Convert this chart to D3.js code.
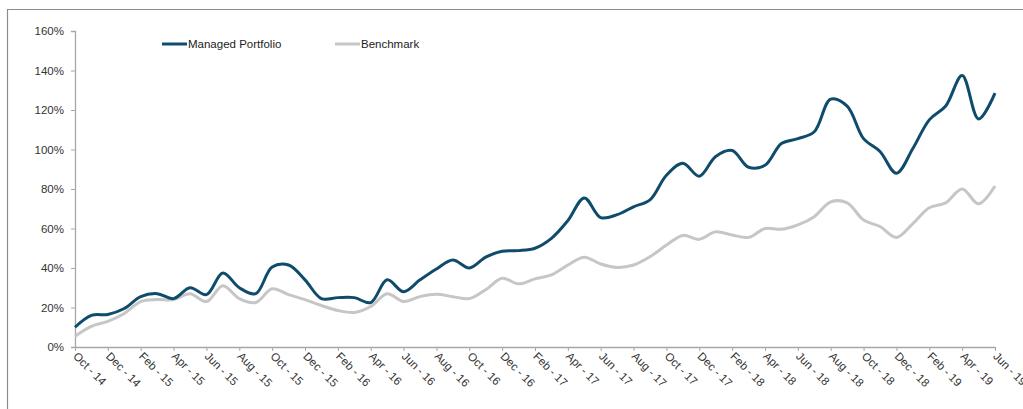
<!DOCTYPE html>
<html>
<head>
<meta charset="utf-8">
<script src="https://cdn.jsdelivr.net/npm/d3@7"></script>
<style>
  body { margin: 0; background: #fff; }
  svg { display: block; font-family: "Liberation Sans", Arial, sans-serif; }
</style>
</head>
<body>
<svg id="chart" width="1023" height="409"></svg>
<script>
const months = [
  'Oct - 14', 'Nov - 14', 'Dec - 14', 'Jan - 15', 'Feb - 15', 'Mar - 15', 'Apr - 15', 'May - 15',
  'Jun - 15', 'Jul - 15', 'Aug - 15', 'Sep - 15', 'Oct - 15', 'Nov - 15', 'Dec - 15', 'Jan - 16',
  'Feb - 16', 'Mar - 16', 'Apr - 16', 'May - 16', 'Jun - 16', 'Jul - 16', 'Aug - 16', 'Sep - 16',
  'Oct - 16', 'Nov - 16', 'Dec - 16', 'Jan - 17', 'Feb - 17', 'Mar - 17', 'Apr - 17', 'May - 17',
  'Jun - 17', 'Jul - 17', 'Aug - 17', 'Sep - 17', 'Oct - 17', 'Nov - 17', 'Dec - 17', 'Jan - 18',
  'Feb - 18', 'Mar - 18', 'Apr - 18', 'May - 18', 'Jun - 18', 'Jul - 18', 'Aug - 18', 'Sep - 18',
  'Oct - 18', 'Nov - 18', 'Dec - 18', 'Jan - 19', 'Feb - 19', 'Mar - 19', 'Apr - 19', 'May - 19',
  'Jun - 19'
];

const managed = [
  10, 16, 16.5, 19.5, 25.5, 27, 24.5, 30, 26.5, 37.5, 30, 27, 40.5, 41.5, 34,
  24.5, 25, 25, 22.5, 34, 28, 34, 39.5, 44, 40, 45.5, 48.5, 48.8, 50, 55,
  64, 75.5, 65.5, 67, 71, 74.5, 87, 93, 86.5, 96.5, 99.5, 91, 92, 103,
  105.5, 109, 125.5, 122, 105.5, 99, 88, 100.5, 115, 122, 137.5, 115.5, 128.5
];

const benchmark = [
  5.5, 10.5, 13, 17, 23, 24, 24, 27, 23, 31, 24.5, 22.5, 29.5, 26.5, 24,
  21, 18.5, 17.5, 20.5, 27, 23, 25.5, 26.7, 25.5, 24.5, 29, 34.8, 32, 34.5, 36.5,
  41.5, 45.5, 42, 40.3, 41.5, 45.7, 51.6, 56.5, 54.5, 58.3, 56.7, 55.5, 60, 59.6,
  61.8, 66, 73.5, 73, 64.3, 61, 55.5, 62.5, 70.5, 73, 80, 72.5, 81.5
];

const yTicks = [0, 20, 40, 60, 80, 100, 120, 140, 160];

const svg = d3.select('#chart');
const plotLeft = 75, plotRight = 995, plotTop = 31, plotBottom = 347;

// outer frame (only top and left edges visible in the crop)
svg.append('path')
  .attr('d', 'M7.5,409 V9.5 H1023')
  .attr('fill', 'none')
  .attr('stroke', '#8c8c8c')
  .attr('stroke-width', 1.2);

const x = d3.scalePoint().domain(months).range([plotLeft, plotRight]);
const y = d3.scaleLinear().domain([0, 160]).range([plotBottom, plotTop]);

const yAxis = d3.axisLeft(y)
  .tickValues(yTicks)
  .tickSize(4)
  .tickFormat(d => d + '%');

const gy = svg.append('g')
  .attr('transform', `translate(${plotLeft}, 0)`)
  .call(yAxis);
gy.select('.domain').attr('stroke', '#a6a6a6').attr('stroke-width', 1.3);
gy.selectAll('.tick line').attr('stroke', '#a6a6a6');
gy.selectAll('.tick text')
  .attr('x', -11)
  .style('font-size', '11.5px')
  .attr('fill', '#333');

const xAxis = d3.axisBottom(x)
  .tickValues(months.filter((m, i) => i % 2 === 0))
  .tickSize(4)
  .tickSizeOuter(0);

const gx = svg.append('g')
  .attr('transform', `translate(0, ${plotBottom})`)
  .call(xAxis);
gx.select('.domain').attr('stroke', '#a6a6a6').attr('stroke-width', 1.3);
gx.selectAll('.tick line').attr('stroke', '#a6a6a6');
gx.selectAll('.tick text')
  .attr('y', 0)
  .attr('dy', 0)
  .attr('transform', 'translate(-3, 10) rotate(45)')
  .style('text-anchor', 'start')
  .style('font-size', '11.5px')
  .attr('fill', '#333');

const line = d3.line()
  .x((d, i) => x(months[i]))
  .y(d => y(d))
  .curve(d3.curveCatmullRom.alpha(0.5));

svg.append('path')
  .datum(benchmark)
  .attr('fill', 'none')
  .attr('stroke', '#c6c6c6')
  .attr('stroke-width', 3)
  .attr('d', line);

svg.append('path')
  .datum(managed)
  .attr('fill', 'none')
  .attr('stroke', '#0f4c6c')
  .attr('stroke-width', 3)
  .attr('d', line);

// legend
const legendItems = [
  { name: 'Managed Portfolio', color: '#0f4c6c', x: 162 },
  { name: 'Benchmark', color: '#c6c6c6', x: 335 }
];

const legend = svg.append('g');
legendItems.forEach(item => {
  legend.append('line')
    .attr('x1', item.x).attr('x2', item.x + 25)
    .attr('y1', 44).attr('y2', 44)
    .attr('stroke', item.color)
    .attr('stroke-width', 3);
  legend.append('text')
    .attr('x', item.x + 26)
    .attr('y', 48)
    .style('font-size', '11.5px')
    .attr('fill', '#222')
    .text(item.name);
});
</script>
</body>
</html>
